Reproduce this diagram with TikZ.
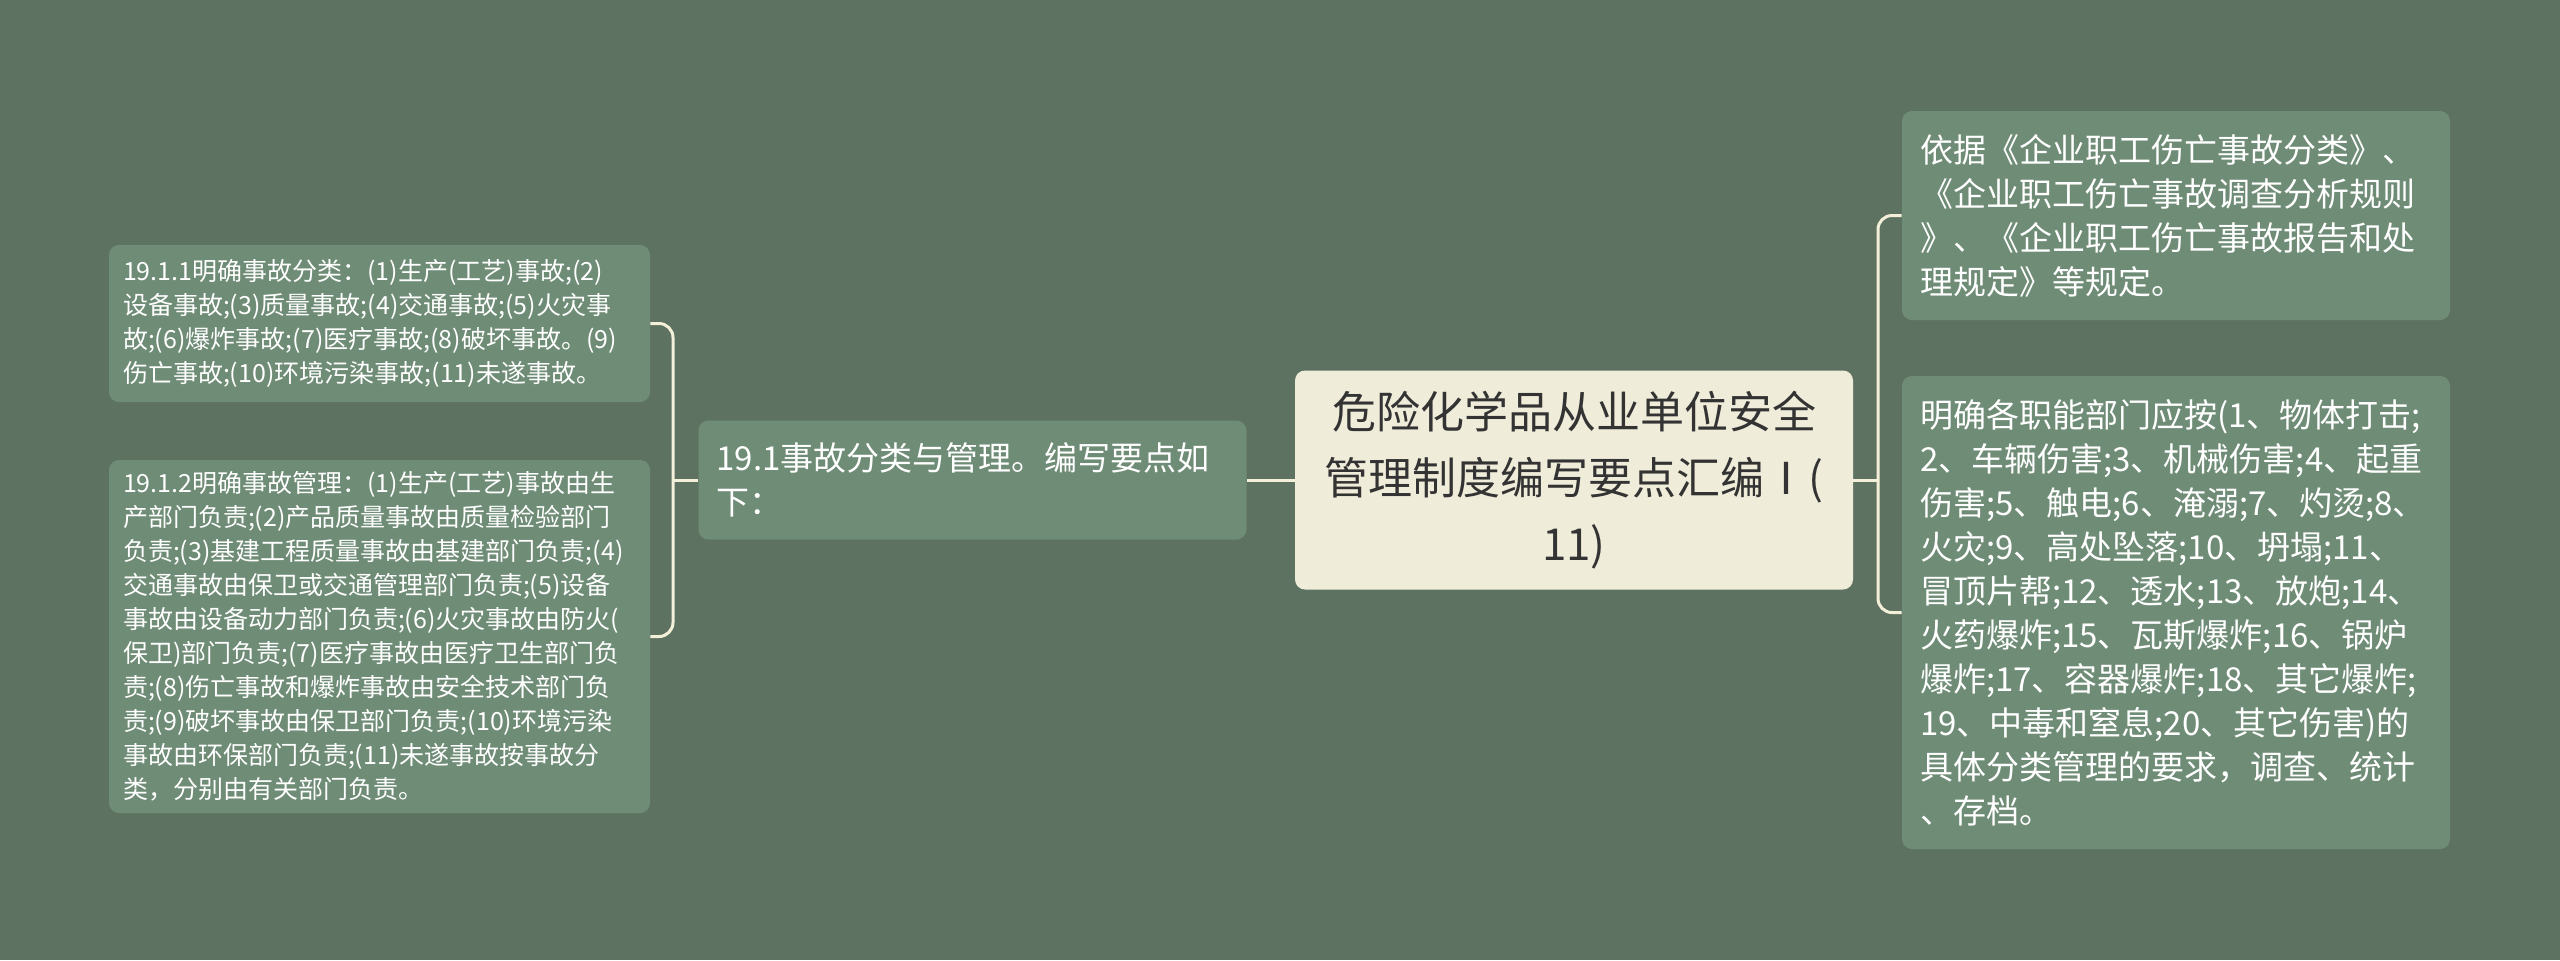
\documentclass[tikz,border=0pt]{standalone}
\usepackage{fontspec}
\newfontfamily\cjk{Noto Sans CJK SC}
\usepackage{tikz}
\usetikzlibrary{positioning}
\definecolor{bgc}{HTML}{5E7262}
\definecolor{leafc}{HTML}{6F8C76}
\definecolor{rootc}{HTML}{F0ECDA}
\definecolor{linec}{HTML}{F3EFD9}

\begin{document}
\begin{tikzpicture}[x=0.5pt,y=-0.5pt,
root/.style={fill=rootc, text=black!80, rounded corners=5pt, inner sep=0pt,
  minimum width=279pt, minimum height=109.5pt, text width=262pt, align=center,
  font=\cjk\fontsize{22}{33}\selectfont},
big/.style={fill=leafc, text=white, rounded corners=5pt, inner xsep=9pt, inner ysep=0pt,
  minimum width=274pt, text width=256pt, align=left,
  font=\cjk\fontsize{16.5}{22}\selectfont},
small/.style={fill=leafc, text=white, rounded corners=5pt, inner xsep=7pt, inner ysep=0pt,
  minimum width=270.5pt, text width=256.5pt, align=left,
  font=\cjk\fontsize{12.5}{17}\selectfont},
link/.style={draw=linec, line width=1.5pt, rounded corners=7pt}]
\fill[bgc] (0,0) rectangle (2560,960);

\node[root] (root) at (1574,480) {危险化学品从业单位安全\\管理制度编写要点汇编Ⅰ(\\11)};
\node[big, minimum height=59.5pt] (mid) at (972.5,480) {19.1事故分类与管理。编写要点如\\下：};
\node[small, minimum height=78.5pt] (l1) at (379.5,323.5) {19.1.1明确事故分类：(1)生产(工艺)事故;(2)\\设备事故;(3)质量事故;(4)交通事故;(5)火灾事\\故;(6)爆炸事故;(7)医疗事故;(8)破坏事故。(9)\\伤亡事故;(10)环境污染事故;(11)未遂事故。};
\node[small, minimum height=176.5pt] (l2) at (379.5,636.5) {19.1.2明确事故管理：(1)生产(工艺)事故由生\\产部门负责;(2)产品质量事故由质量检验部门\\负责;(3)基建工程质量事故由基建部门负责;(4)\\交通事故由保卫或交通管理部门负责;(5)设备\\事故由设备动力部门负责;(6)火灾事故由防火(\\保卫)部门负责;(7)医疗事故由医疗卫生部门负\\责;(8)伤亡事故和爆炸事故由安全技术部门负\\责;(9)破坏事故由保卫部门负责;(10)环境污染\\事故由环保部门负责;(11)未遂事故按事故分\\类，分别由有关部门负责。};
\node[big, minimum height=104.5pt] (r1) at (2176,215.5) {依据《企业职工伤亡事故分类》、\\《企业职工伤亡事故调查分析规则\\》、《企业职工伤亡事故报告和处\\理规定》等规定。};
\node[big, minimum height=236.5pt] (r2) at (2176,612.5) {明确各职能部门应按(1、物体打击;\\2、车辆伤害;3、机械伤害;4、起重\\伤害;5、触电;6、淹溺;7、灼烫;8、\\火灾;9、高处坠落;10、坍塌;11、\\冒顶片帮;12、透水;13、放炮;14、\\火药爆炸;15、瓦斯爆炸;16、锅炉\\爆炸;17、容器爆炸;18、其它爆炸;\\19、中毒和窒息;20、其它伤害)的\\具体分类管理的要求，调查、统计\\、存档。};

\coordinate (lj) at (673,480);
\coordinate (rj) at (1878,480);
\draw[link] (root.west) -- (mid.east);
\draw[link] (mid.west) -- (lj);
\draw[link] (lj) |- (l1.east);
\draw[link] (lj) |- (l2.east);
\draw[link] (root.east) -- (rj);
\draw[link] (rj) |- (r1.west);
\draw[link] (rj) |- (r2.west);
\end{tikzpicture}
\end{document}
